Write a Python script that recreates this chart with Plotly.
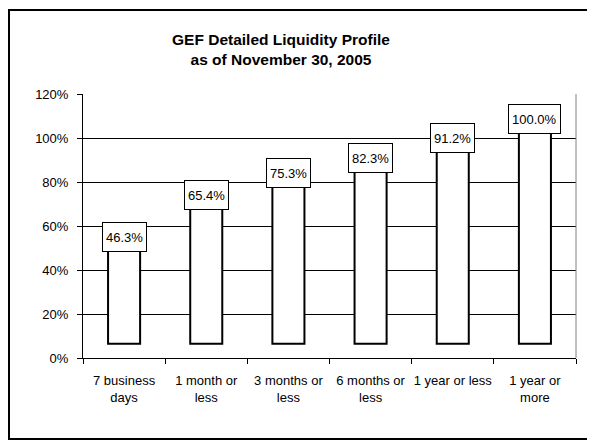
import plotly.graph_objects as go

categories = ["7 business<br>days", "1 month or<br>less", "3 months or<br>less",
              "6 months or<br>less", "1 year or less", "1 year or<br>more"]
liquidity = [46.3, 65.4, 75.3, 82.3, 91.2, 100.0]
labels = ["46.3%", "65.4%", "75.3%", "82.3%", "91.2%", "100.0%"]
y_ticks = [0, 20, 40, 60, 80, 100, 120]
y_tick_text = ["0%", "20%", "40%", "60%", "80%", "100%", "120%"]

font_main = "Liberation Sans, Arial, sans-serif"

# page body adds 8px around the figure, so the figure is 8px smaller
W, H = 587, 437
L, T, R, B = 75, 86, 19, 87
plot_w, plot_h = W - L - R, H - T - B

fig = go.Figure()

# bars in the original sit a little above the axis
fig.add_trace(go.Bar(x=categories, y=liquidity, base=6.5, width=0.39,
                     marker=dict(color="white", line=dict(color="black", width=2)),
                     hoverinfo="skip"))

for cat, val, lab in zip(categories, liquidity, labels):
    fig.add_annotation(x=cat, y=val, text=lab, showarrow=False,
                       yanchor="bottom", yshift=4,
                       font=dict(family=font_main, size=13, color="black"),
                       bgcolor="white", bordercolor="black", borderwidth=1,
                       borderpad=3, height=22)

# outer frame (right side runs off the page)
fig.add_shape(type="rect", xref="paper", yref="paper",
              x0=(1 - L) / plot_w, x1=1.2,
              y0=-(H - 6 - (T + plot_h)) / plot_h, y1=1 + (T - 2) / plot_h,
              line=dict(color="black", width=2), layer="below")
# right edge of plot area
fig.add_shape(type="line", xref="paper", yref="paper", x0=1, x1=1, y0=0, y1=1,
              line=dict(color="#808080", width=1))

fig.update_layout(
    width=W, height=H,
    margin=dict(l=L, r=R, t=T, b=B),
    plot_bgcolor="white", paper_bgcolor="white",
    showlegend=False,
    title=dict(text="<b>GEF Detailed Liquidity Profile<br>as of November 30, 2005</b>",
               x=273 / W, xanchor="center", xref="container",
               y=1 - 37 / H, yanchor="middle",
               font=dict(family=font_main, size=15.5, color="black")),
)

fig.update_xaxes(showline=True, linecolor="black", linewidth=1, tickangle=0,
                 ticks="outside", tickson="boundaries", ticklen=5, tickcolor="black",
                 ticklabelstandoff=10,
                 tickfont=dict(family=font_main, size=13, color="black"),
                 showgrid=False)
fig.update_yaxes(range=[0, 120], tickmode="array", tickvals=y_ticks, ticktext=y_tick_text,
                 showline=True, linecolor="black", linewidth=1,
                 ticks="outside", ticklen=5, tickcolor="black",
                 ticklabelstandoff=6,
                 tickfont=dict(family=font_main, size=13, color="black"),
                 showgrid=True, gridcolor="black", gridwidth=1, zeroline=False)

fig.write_html("out.html")
